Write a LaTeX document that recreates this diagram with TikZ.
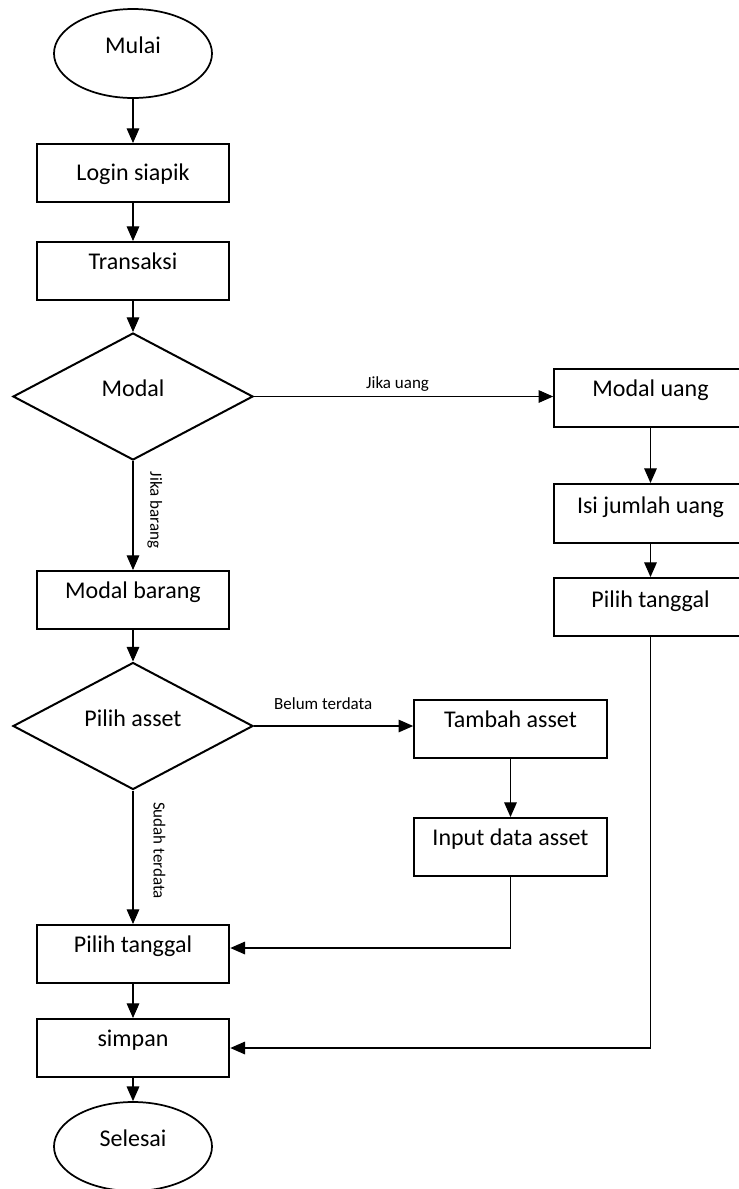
\documentclass[tikz,border=0pt]{standalone}
\usepackage{fontspec}
\setmainfont{Carlito}
\usetikzlibrary{shapes.geometric, arrows.meta}

\begin{document}
\begin{tikzpicture}[x=0.75pt, y=-0.75pt,
  every node/.style={font=\fontsize{18}{21}\selectfont},
  stepbox/.style={draw, rectangle, line width=1.5pt, minimum width=144.5pt,
    inner xsep=0pt, inner ysep=0pt, text height=20.25pt, text depth=23.25pt, anchor=base},
  terminal/.style={draw, ellipse, line width=1.3pt, minimum width=118.5pt,
    minimum height=66.75pt, inner sep=0pt, text height=4pt, text depth=4pt},
  decision/.style={draw, diamond, line width=1.5pt, minimum width=180pt,
    minimum height=95.25pt, inner sep=0pt, text height=4pt, text depth=4pt},
  flow/.style={line width=0.8pt, -{Triangle[length=11pt, width=9.5pt]}},
  lbl/.style={font=\fontsize{12.75}{15}\selectfont, inner sep=0pt}
]
\useasboundingbox (0,0) rectangle (739,1189);
\clip (0,0) rectangle (739,1189);

% main column
\node[terminal] (mulai) at (133,53.5) {Mulai};
\node[stepbox, text height=27pt, text depth=16.5pt] (login) at (133,180) {Login siapik};
\node[stepbox] (transaksi) at (133,269) {Transaksi};
\node[decision] (modal) at (133,396.5) {Modal};
\node[stepbox] (mbarang) at (133,598) {Modal barang};
\node[decision] (passet) at (133,726) {Pilih asset};
\node[stepbox] (ptglL) at (133,952) {Pilih tanggal};
\node[stepbox] (simpan) at (133,1046) {simpan};
\node[terminal] (selesai) at (133,1146.5) {Selesai};

% money branch
\node[stepbox] (muang) at (650.5,396) {Modal uang};
\node[stepbox, text height=21.75pt, text depth=22.5pt] (isi) at (650.5,513) {Isi jumlah uang};
\node[stepbox, text height=21.75pt, text depth=21.75pt] (ptglR) at (650.5,607) {Pilih tanggal};

% new asset branch
\node[stepbox] (tambah) at (510.5,727) {Tambah asset};
\node[stepbox] (input) at (510.5,845) {Input data asset};

% connectors
\draw[flow] (mulai) -- (login);
\draw[flow] (login) -- (transaksi);
\draw[flow] (transaksi) -- (modal.north);
\draw[flow] (modal.east) -- node[lbl, pos=0.48, above=3.75pt] {Jika uang} (modal.east -| muang.west);
\draw[flow] (modal.south) -- node[lbl, pos=0.45, sloped, above=10.5pt] {Jika barang} (mbarang.north);
\draw[flow] (muang) -- (isi);
\draw[flow] (isi) -- (ptglR);
\draw[flow] (ptglR.south) |- (simpan.east);
\draw[flow] (mbarang) -- (passet.north);
\draw[flow] (passet.east) -- node[lbl, pos=0.435, above=12pt] {Belum terdata} (passet.east -| tambah.west);
\draw[flow] (passet.south) -- node[lbl, pos=0.45, sloped, above=15pt] {Sudah terdata} (ptglL.north);
\draw[flow] (tambah) -- (input);
\draw[flow] (input.south) |- ([yshift=4.5pt]ptglL.east);
\draw[flow] (ptglL) -- (simpan);
\draw[flow] (simpan) -- (selesai.north);
\end{tikzpicture}
\end{document}
